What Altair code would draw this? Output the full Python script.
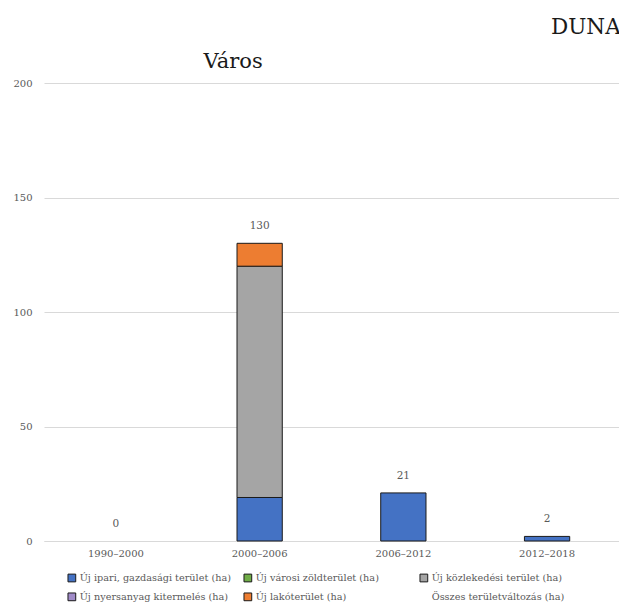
import altair as alt
import pandas as pd

periods = ["1990–2000", "2000–2006", "2006–2012", "2012–2018"]
series = [
    "Új ipari, gazdasági terület (ha)",
    "Új városi zöldterület (ha)",
    "Új közlekedési terület (ha)",
    "Új nyersanyag kitermelés (ha)",
    "Új lakóterület (ha)",
    "Összes területváltozás (ha)",
]
ipari = [0, 19, 21, 2]
zold = [0, 0, 0, 0]
kozlekedesi = [0, 101, 0, 0]
nyersanyag = [0, 0, 0, 0]
lako = [0, 10, 0, 0]
osszes = [0, 130, 21, 2]

fill_colors = ["#4472C4", "#70AD47", "#A5A5A5", "#A08BC8", "#ED7D31", "transparent"]
stroke_colors = ["#1a1a1a"] * 5 + ["transparent"]

rows = []
for si, vals in enumerate([ipari, zold, kozlekedesi, nyersanyag, lako]):
    for p, v in zip(periods, vals):
        if v > 0:
            rows.append({"period": p, "series": series[si], "value": v, "ord": si})
bars_df = pd.DataFrame(rows)
tot_df = pd.DataFrame({"period": periods, "total": osszes})

FONT = "DejaVu Serif"
GREY = "#595959"

legend = alt.Legend(
    title=None, orient="none", legendX=23, legendY=490, columns=3,
    direction="horizontal", gridAlign="all", columnPadding=10, rowPadding=6,
    symbolType="square", symbolSize=60, symbolStrokeWidth=1, symbolOffset=0,
    labelFont=FONT, labelFontSize=9.7, labelColor=GREY, labelOffset=3,
    labelLimit=300, padding=0,
)

x_enc = alt.X(
    "period:N",
    sort=periods,
    scale=alt.Scale(paddingInner=0.685, paddingOuter=0.343),
    axis=alt.Axis(
        title=None, labelAngle=0, ticks=False, domainColor="#d9d9d9",
        labelFont=FONT, labelFontSize=10, labelColor=GREY, labelPadding=7,
    ),
)

bars = alt.Chart(bars_df).mark_bar(strokeWidth=1).encode(
    x=x_enc,
    y=alt.Y(
        "value:Q",
        stack="zero",
        scale=alt.Scale(domain=[0, 200]),
        axis=alt.Axis(
            title="Város", values=[0, 50, 100, 150, 200], ticks=False, domain=False,
            gridColor="#d9d9d9", labelFont=FONT, labelFontSize=10,
            labelColor=GREY, labelPadding=12,
            titleAngle=0, titleAlign="left", titleBaseline="alphabetic",
            titleX=159, titleY=-16, titleFont=FONT, titleFontSize=21,
            titleFontWeight="normal", titleColor="#1a1a1a",
        ),
    ),
    color=alt.Color("series:N", scale=alt.Scale(domain=series, range=fill_colors), legend=legend),
    stroke=alt.Stroke("series:N", scale=alt.Scale(domain=series, range=stroke_colors), legend=legend),
    order=alt.Order("ord:Q", sort="ascending"),
)

labels = alt.Chart(tot_df).mark_text(
    font=FONT, fontSize=10.5, color=GREY, dy=-17, baseline="middle"
).encode(
    x=alt.X("period:N", sort=periods),
    y=alt.Y("total:Q"),
    text=alt.Text("total:Q"),
)

chart = alt.layer(bars, labels).properties(
    width=575,
    height=458,
    padding={"left": 36, "top": 75, "right": 0, "bottom": 63},
    autosize=alt.AutoSizeParams(type="none"),
    title=alt.TitleParams(
        "DUNAÚJVÁROS", anchor="start", frame="group", dx=507, font=FONT, fontSize=21.5,
        fontWeight="normal", color="#1a1a1a", offset=12,
    ),
).configure_view(stroke=None)

chart.save("out.html", embed_options={"renderer": "svg", "actions": False})
